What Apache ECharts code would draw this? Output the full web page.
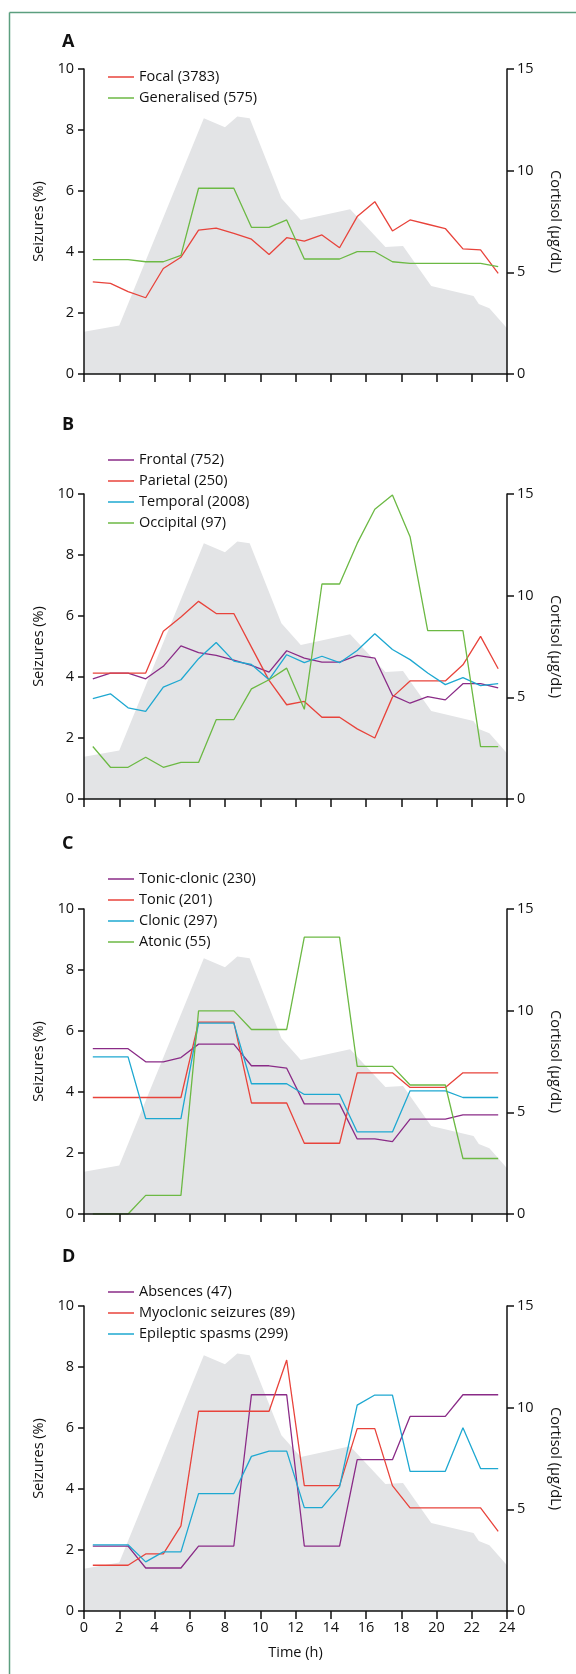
<!DOCTYPE html>
<html><head><meta charset="utf-8">
<script src="https://cdn.jsdelivr.net/npm/echarts@6/dist/echarts.min.js"></script>
<style>html,body{margin:0;padding:0;background:#fff}#c{width:576px;height:1674px}</style>
</head><body><div id="c"></div>
<script>
// Time points (h): midpoints of hourly bins
const hours = [0.5,1.5,2.5,3.5,4.5,5.5,6.5,7.5,8.5,9.5,10.5,11.5,12.5,13.5,14.5,15.5,16.5,17.5,18.5,19.5,20.5,21.5,22.5,23.5];
// Cortisol profile (grey area), right axis
const cortisolTime  = [0, 2, 6.8, 8.0, 8.7, 9.4, 11.2, 12.3, 15.1, 17.1, 18.1, 19.7, 22.1, 22.4, 23.0, 24];
const cortisolValue = [2.08, 2.38, 12.58, 12.13, 12.66, 12.58, 8.64, 7.57, 8.1, 6.25, 6.3, 4.33, 3.84, 3.44, 3.23, 2.25];

// Panel A
const focal       = [3.02,2.97,2.70,2.50,3.46,3.83,4.72,4.78,4.61,4.42,3.92,4.47,4.36,4.56,4.14,5.16,5.65,4.69,5.05,4.91,4.77,4.10,4.07,3.30];
const generalised = [3.75,3.75,3.75,3.68,3.68,3.89,6.09,6.09,6.09,4.81,4.81,5.05,3.77,3.77,3.77,4.01,4.01,3.68,3.63,3.63,3.63,3.63,3.63,3.52];
// Panel B
const frontal   = [3.94,4.13,4.13,3.94,4.35,5.02,4.80,4.71,4.55,4.38,4.16,4.86,4.62,4.49,4.49,4.71,4.62,3.40,3.14,3.36,3.25,3.78,3.78,3.64];
const parietal  = [4.13,4.13,4.13,4.13,5.50,5.97,6.48,6.08,6.08,4.98,3.89,3.09,3.20,2.68,2.68,2.30,2.00,3.34,3.87,3.87,3.87,4.40,5.33,4.27];
const temporal  = [3.29,3.45,2.99,2.87,3.67,3.91,4.60,5.13,4.52,4.41,3.91,4.73,4.47,4.68,4.47,4.87,5.42,4.90,4.57,4.13,3.75,3.98,3.72,3.78];
const occipital = [1.72,1.04,1.04,1.37,1.04,1.20,1.20,2.60,2.60,3.61,3.91,4.29,2.94,7.05,7.05,8.38,9.50,9.97,8.60,5.52,5.52,5.52,1.72,1.72];
// Panel C
const tonicClonic = [5.42,5.42,5.42,4.99,4.99,5.13,5.57,5.57,5.57,4.86,4.86,4.78,3.61,3.61,3.61,2.46,2.46,2.37,3.11,3.11,3.11,3.25,3.25,3.25];
const tonic       = [3.82,3.82,3.82,3.82,3.82,3.82,6.29,6.29,6.29,3.64,3.64,3.64,2.32,2.32,2.32,4.63,4.63,4.63,4.15,4.15,4.15,4.63,4.63,4.63];
const clonic      = [5.15,5.15,5.15,3.13,3.13,3.13,6.26,6.26,6.26,4.27,4.27,4.27,3.92,3.92,3.92,2.69,2.69,2.69,4.04,4.04,4.04,3.82,3.82,3.82];
const atonic      = [0,0,0,0.61,0.61,0.61,6.66,6.66,6.66,6.05,6.05,6.05,9.08,9.08,9.08,4.84,4.84,4.84,4.23,4.23,4.23,1.82,1.82,1.82];
// Panel D
const absences  = [2.13,2.13,2.13,1.41,1.41,1.41,2.13,2.13,2.13,7.09,7.09,7.09,2.13,2.13,2.13,4.96,4.96,4.96,6.38,6.38,6.38,7.09,7.09,7.09];
const myoclonic = [1.50,1.50,1.50,1.87,1.87,2.79,6.55,6.55,6.55,6.55,6.55,8.23,4.11,4.11,4.11,5.98,5.98,4.11,3.38,3.38,3.38,3.38,3.38,2.61];
const spasms    = [2.17,2.17,2.17,1.61,1.94,1.94,3.85,3.85,3.85,5.07,5.24,5.24,3.39,3.39,4.07,6.75,7.08,7.08,4.58,4.58,4.58,6.01,4.67,4.67];

const RED='#e8433b', GREEN='#6cb944', PURPLE='#8a2b87', CYAN='#1ea8d1', GREY='#e3e4e6';
const FONT = '"Open Sans", "Noto Sans", sans-serif';

const panels = [
  {label:'A', top:69, legendTop:64, series:[['Focal (3783)',focal,RED],['Generalised (575)',generalised,GREEN]]},
  {label:'B', top:494, legendTop:447, series:[['Frontal (752)',frontal,PURPLE],['Parietal (250)',parietal,RED],['Temporal (2008)',temporal,CYAN],['Occipital (97)',occipital,GREEN]]},
  {label:'C', top:909, legendTop:866, series:[['Tonic-clonic (230)',tonicClonic,PURPLE],['Tonic (201)',tonic,RED],['Clonic (297)',clonic,CYAN],['Atonic (55)',atonic,GREEN]]},
  {label:'D', top:1306, legendTop:1279, series:[['Absences (47)',absences,PURPLE],['Myoclonic seizures (89)',myoclonic,RED],['Epileptic spasms (299)',spasms,CYAN]]}
];
const labelY = [42, 425, 844, 1257];

const grid=[], xAxis=[], yAxis=[], series=[], legend=[], graphic=[];
const axisLineStyle = {color:'#111', width:1.5};
const txt = {color:'#111', fontFamily:FONT, fontSize:14.5};
panels.forEach((p,i)=>{
  grid.push({left:84, width:423, top:p.top, height:305, containLabel:false});
  const isLast = i===panels.length-1;
  xAxis.push({type:'value', gridIndex:i, min:0, max:24, interval:2, z:5,
    axisLine:{show:true, lineStyle:axisLineStyle}, axisTick:{show:true, length:8, lineStyle:axisLineStyle},
    axisLabel:Object.assign({show:isLast, margin:9}, txt),
    splitLine:{show:false},
    name:isLast?'Time (h)':'', nameLocation:'middle', nameGap:34, nameTextStyle:txt});
  yAxis.push({type:'value', gridIndex:i, position:'left', min:0, max:10, interval:2, z:5,
    axisLine:{show:true, lineStyle:axisLineStyle}, axisTick:{show:true, length:6, lineStyle:axisLineStyle},
    axisLabel:Object.assign({margin:10}, txt), splitLine:{show:false},
    name:'Seizures (%)', nameLocation:'middle', nameRotate:90, nameGap:38, nameTextStyle:txt});
  yAxis.push({type:'value', gridIndex:i, position:'right', min:0, max:15, interval:5, z:5,
    axisLine:{show:true, lineStyle:axisLineStyle}, axisTick:{show:true, length:7, lineStyle:axisLineStyle},
    axisLabel:Object.assign({margin:10}, txt), splitLine:{show:false},
    name:'Cortisol (μg/dL)', nameLocation:'middle', nameRotate:-90, nameGap:41, nameTextStyle:txt});
  series.push({type:'line', name:'cortisol'+i, xAxisIndex:i, yAxisIndex:2*i+1, silent:true, z:1,
    symbol:'none', lineStyle:{width:0}, areaStyle:{color:GREY, opacity:1},
    data: cortisolTime.map((t,k)=>[t, cortisolValue[k]])});
  p.series.forEach(s=>{
    series.push({type:'line', name:s[0], xAxisIndex:i, yAxisIndex:2*i, z:3,
      symbol:'none', color:s[2], lineStyle:{width:1.3, color:s[2]},
      data: hours.map((h,k)=>[h, s[1][k]])});
  });
  legend.push({orient:'vertical', left:103, top:p.legendTop, icon:'rect', itemWidth:26, itemHeight:1.5,
    itemGap:5, selectedMode:false, data:p.series.map(s=>s[0]),
    textStyle:Object.assign({lineHeight:16}, txt)});
  graphic.push({type:'text', x:62, y:labelY[i], style:{text:p.label, font:'bold 18px '+FONT, fill:'#111', textVerticalAlign:'middle'}});
});
graphic.push({type:'line', shape:{x1:9.5, y1:12.5, x2:576, y2:12.5}, style:{stroke:'#5c9f7f', lineWidth:1.5}});
graphic.push({type:'line', shape:{x1:9.5, y1:12.5, x2:9.5, y2:1674}, style:{stroke:'#5c9f7f', lineWidth:1.5}});

const chart = echarts.init(document.getElementById('c'), null, {renderer:'canvas'});
chart.setOption({animation:false, backgroundColor:'#fff', grid, xAxis, yAxis, series, legend, graphic});
</script></body></html>
